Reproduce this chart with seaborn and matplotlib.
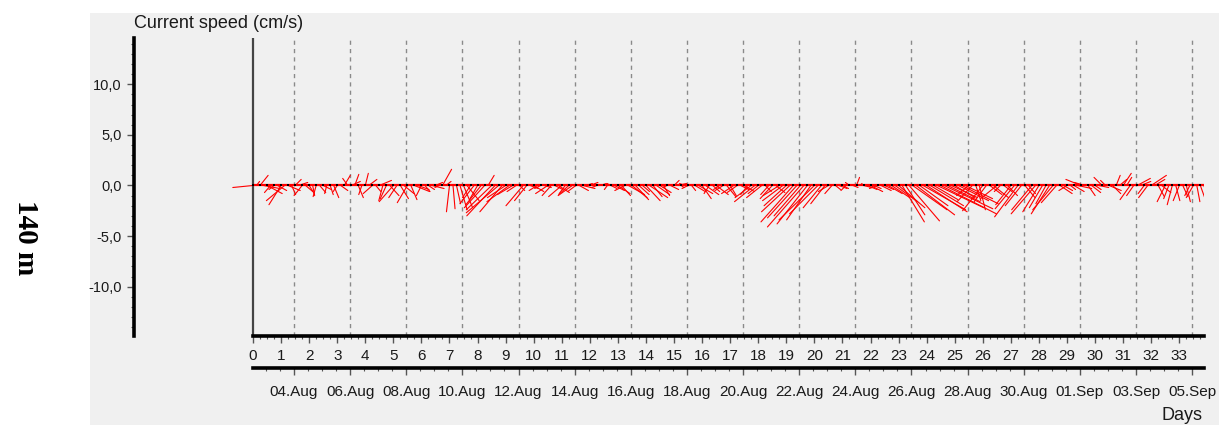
import numpy as np
import pandas as pd
import matplotlib
matplotlib.use("Agg")
import matplotlib.pyplot as plt
from matplotlib.patches import Rectangle
from matplotlib.ticker import MultipleLocator, FixedLocator, FixedFormatter, FuncFormatter
import seaborn as sns

# ---- current meter record at 140 m: u (east) and v (north) in cm/s, 3-hourly ----
start_time = "2013-08-02 13:00"
step_days = 0.125

u_east = [
    -2.0, 0.3, 0.8, 1.6, 1.5, -0.6, -0.5, 0.9,        # day 0
    -1.2, -1.8, 1.2, 0.4, 0.6, 0.9, -0.8, 0.7,        # day 1
    0.5, 0.2, -0.3, 0.6, 0.8, -0.2, 0.3, 0.5,         # day 2
    -0.4, 0.7, 0.6, -0.5, 0.9, 0.4, 0.5, -0.3,        # day 3
    0.3, 0.8, -0.9, 0.5, 1.2, -0.4, -0.6, 0.9,        # day 4
    -1.4, -0.8, 0.8, 1.0, -1.0, 0.6, 1.5, 1.1,        # day 5
    -0.5, 0.5, 0.6, 1.2, 0.7, -0.4, 0.9, 0.5,         # day 6
    -0.3, 0.2, 0.4, 0.7, 0.9, 1.2, -0.8, -1.4,        # day 7
    -0.8, -1.5, -2.0, 0.6, -2.5, -2.8, -3.2, -2.2,    # day 8
    -1.8, -2.2, -1.5, -0.9, 0.5, -1.7, -1.2, 0.8,     # day 9
    1.0, -0.8, -0.6, 0.7, -1.2, -0.9, 0.8, 1.1,       # day 10
    -1.3, -0.6, -1.0, -1.4, -0.8, 0.9, 1.2, 0.6,      # day 11
    0.8, 1.2, -0.5, 0.6, 0.4, -0.3, 0.6, 1.0,         # day 12
    1.2, 0.9, -1.0, 1.6, 1.5, 1.3, 1.0, 0.7,          # day 13
    1.4, 1.8, 0.9, 1.3, 1.1, 0.6, -0.4, 0.8,          # day 14
    0.5, 0.9, 0.3, -0.5, -0.6, 0.4, 1.0, 1.4,         # day 15
    0.9, 1.3, -0.5, 0.7, 1.2, -0.6, -0.8, 0.9,        # day 16
    0.6, -1.2, -1.0, 0.8, 1.0, -0.7, -1.6, -2.0,      # day 17
    -1.0, -1.5, 0.6, -0.8, -1.2, 0.9, -1.6, -2.0,     # day 18
    -2.2, -2.8, -3.2, -2.9, -2.6, -3.6, -3.0, -2.4,   # day 19
    -3.5, -2.8, -1.8, -1.4, -1.0, -0.7, 0.5, 0.8,     # day 20
    0.6, -0.5, -0.4, 0.5, 0.3, 0.2, 0.8, 1.0,         # day 21
    1.2, 0.7, -0.8, 1.0, 0.9, 1.4, 1.8, 2.2,          # day 22
    2.6, 2.2, 1.9, 3.0, 3.4, 3.8, 2.8, 4.2,           # day 23
    4.0, 3.3, 2.4, 4.6, 5.5, 4.8, 3.2, 2.6,           # day 24
    2.0, 3.0, 3.6, 2.7, -1.2, -1.5, 0.5, 0.6,         # day 25
    -2.0, -1.2, 1.2, 1.5, -1.6, -0.6, 0.8, 1.0,       # day 26
    -1.5, -1.9, -2.3, -1.6, 1.0, 0.7, -2.0, -2.4,     # day 27
    -1.6, -1.3, -1.0, -1.8, -2.0, -1.5, 1.2, 0.9,     # day 28
    -0.8, 0.5, 1.0, 1.4, -1.5, -1.0, 0.7, 0.9,        # day 29
    0.6, 1.0, -0.8, -0.5, 1.2, 0.8, 0.4, 0.7,         # day 30
    0.8, 0.5, -1.0, -0.7, 1.3, 1.0, -0.6, -0.9,       # day 31
    1.5, 1.0, 0.6, 0.9, -0.8, -0.5, -0.5, 0.4,        # day 32
    -0.6, 0.5, 0.4, -0.5, -0.7, 0.3, 0.5, 0.4,        # day 33
]
v_north = [
    -0.2, 0.4, 1.0, -0.3, -0.8, -0.7, -0.4, -0.5,     # day 0
    -1.9, -1.5, -0.5, -0.9, 0.6, 0.3, -1.0, -0.6,     # day 1
    -0.8, -1.0, -1.1, -0.7, -0.4, -0.8, -0.9, -1.2,   # day 2
    -0.6, -0.5, 1.0, 0.7, 0.4, 1.1, -1.2, -0.9,       # day 3
    1.2, 0.6, -0.8, -0.6, 0.5, -1.5, -1.3, -1.0,      # day 4
    -1.6, -1.2, -1.3, -0.8, -1.7, -1.4, -0.6, -0.4,   # day 5
    -1.0, -0.6, -0.4, -0.3, 0.3, -0.2, 1.6, 0.4,      # day 6
    -2.6, -2.3, -1.8, -2.4, -2.2, -1.5, -1.2, -1.8,   # day 7
    -1.4, -1.9, -2.2, 1.0, -2.4, -3.0, -2.7, -2.6,    # day 8
    -1.2, -1.6, -0.9, -0.6, -0.5, -2.0, -1.5, -0.3,   # day 9
    -0.6, -0.5, -0.3, -0.2, -0.8, -1.0, -0.4, -0.7,   # day 10
    -1.1, -0.8, -0.9, -1.0, -0.6, -0.5, -0.3, 0.2,    # day 11
    0.3, 0.1, -0.2, 0.2, 0.2, -0.4, -0.3, -0.5,       # day 12
    -0.8, -1.0, -0.5, -0.9, -1.2, -1.4, -0.9, -0.6,   # day 13
    -1.5, -1.2, -1.1, -0.9, -0.7, -1.0, -0.2, -0.4,   # day 14
    0.5, 0.2, -0.2, 0.2, -0.3, -0.5, -0.6, -0.8,      # day 15
    -1.3, -0.9, -0.8, -0.6, -0.9, -0.4, -0.5, -1.1,   # day 16
    -1.0, -0.8, -0.7, -0.4, -0.6, -0.9, -1.2, -1.6,   # day 17
    -0.8, -1.2, -0.6, -0.9, -1.3, -0.7, -1.0, -1.5,   # day 18
    -2.0, -2.6, -3.6, -3.2, -3.0, -4.1, -3.8, -3.4,   # day 19
    -3.4, -2.8, -2.2, -1.8, -0.6, -0.8, -0.4, -0.3,   # day 20
    -0.3, -0.5, 0.3, -0.2, 0.8, 0.2, -0.2, -0.4,      # day 21
    -0.6, -0.3, -0.3, -0.5, -0.4, -0.8, -1.2, -1.6,   # day 22
    -2.2, -3.6, -2.9, -3.5, -2.4, -2.9, -2.0, -2.4,   # day 23
    -2.6, -2.0, -1.4, -2.2, -2.8, -2.3, -1.6, -1.2,   # day 24
    -1.2, -1.5, -1.8, -1.3, -1.0, -1.6, -1.5, -2.4,   # day 25
    -2.5, -1.6, -0.9, -1.2, -1.3, -0.6, -0.6, -1.0,   # day 26
    -1.9, -2.3, -3.1, -2.0, -1.2, -0.8, -2.4, -2.8,   # day 27
    -2.6, -2.2, -1.8, -2.8, -2.4, -1.7, -0.8, -0.5,   # day 28
    -0.5, -0.4, -0.6, -0.3, 0.6, 0.3, -1.0, -0.7,     # day 29
    -0.4, -0.2, 0.8, 0.5, -0.5, -0.8, 1.0, 0.6,       # day 30
    1.2, 0.8, -1.4, -1.0, 0.7, 0.4, -0.8, -1.2,       # day 31
    1.0, 0.6, -1.1, -0.7, -1.6, -1.3, -1.9, -1.5,     # day 32
    -1.5, -1.1, -1.6, -1.0, -1.2, -1.6, -1.4, -1.1,   # day 33
]

y_ticks = [-10, -5, 0, 5, 10]
day_ticks = list(range(0, 34))

# ---- figure geometry (pixels) ----
W, H, DPI = 1219, 425, 100
ax_left, ax_right, ax_top, ax_bottom = 134, 1204, 38, 336
x_min, x_max = -4.24, 33.88
y_min, y_max = -14.88, 14.58

sns.set_style("white")
plt.rcParams["font.family"] = ["Liberation Sans", "DejaVu Sans"]
txt_color = "#1a1a1a"

fig = plt.figure(figsize=(W / DPI, H / DPI), dpi=DPI)
fig.patch.set_facecolor("white")
fig.patches.append(Rectangle((90 / W, 0), 1, (H - 13) / H, transform=fig.transFigure,
                             facecolor="#f0f0f0", edgecolor="none", zorder=-5))

ax = fig.add_axes([ax_left / W, (H - ax_bottom) / H,
                   (ax_right - ax_left) / W, (ax_bottom - ax_top) / H])
ax.patch.set_visible(False)
ax.set_xlim(x_min, x_max)
ax.set_ylim(y_min, y_max)

# ---- stick vectors: origin on the time axis, tip at (t + u*k, v) ----
t = np.arange(len(u_east)) * step_days
px_per_day = (ax_right - ax_left) / (x_max - x_min)
px_per_speed = (ax_bottom - ax_top) / (y_max - y_min)
k = px_per_speed / px_per_day  # days per cm/s so that sticks keep true direction
u = np.asarray(u_east)
v = np.asarray(v_north)
sticks = pd.DataFrame({
    "stick": np.repeat(np.arange(len(t)), 2),
    "x": np.column_stack([t, t + u * k]).ravel(),
    "y": np.column_stack([np.zeros_like(v), v]).ravel(),
})

start = pd.Timestamp(start_time)
first_date = pd.Timestamp(start.date()) + pd.Timedelta(days=2)
date_list = pd.date_range(first_date, periods=17, freq="2D")
date_pos = [(d - start) / pd.Timedelta(days=1) for d in date_list]

for p in date_pos:
    ax.axvline(p, color="#8a8a8a", lw=1.0, ls=(0, (3, 3)), zorder=1)
ax.axvline(0, color="#444444", lw=1.6, zorder=2)
ax.hlines(0, 0, t[-1], color="red", lw=1.6, zorder=3)

sns.lineplot(data=sticks, x="x", y="y", units="stick", estimator=None,
             color="red", lw=0.8, ax=ax, legend=False, zorder=4)
sns.scatterplot(x=t[::2], y=np.zeros(len(t[::2])), color="black", marker="s", s=1.5,
                linewidth=0, ax=ax, zorder=5)
ax.set_xlabel("")
ax.set_ylabel("")

# ---- axes styling ----
for side in ("top", "right"):
    ax.spines[side].set_visible(False)
ax.spines["left"].set_color("black")
ax.spines["left"].set_linewidth(2.6)
ax.spines["bottom"].set_color("black")
ax.spines["bottom"].set_linewidth(2.6)
ax.spines["bottom"].set_bounds(0, x_max)

ax.yaxis.set_major_locator(FixedLocator(y_ticks))
ax.yaxis.set_minor_locator(MultipleLocator(1))
ax.yaxis.set_major_formatter(FuncFormatter(lambda val, pos: f"{val:.1f}".replace(".", ",")))
ax.tick_params(axis="y", which="major", direction="out", length=5, width=1.0,
               color="#555555", labelsize=10.5, labelcolor=txt_color, pad=4,
               left=True, labelleft=True)
ax.tick_params(axis="y", which="minor", direction="out", length=2.5, width=0.8,
               color="#555555", left=True)

ax.xaxis.set_major_locator(FixedLocator(day_ticks))
ax.xaxis.set_minor_locator(FixedLocator(np.arange(0, x_max, 0.25)))
ax.tick_params(axis="x", which="major", direction="out", length=5, width=1.0,
               color="#555555", labelsize=11, labelcolor=txt_color, pad=4, bottom=True)
ax.tick_params(axis="x", which="minor", direction="out", length=2.5, width=0.8,
               color="#555555", bottom=True)

# calendar date axis below the day axis
ax2 = ax.twiny()
ax2.patch.set_visible(False)
ax2.set_xlim(x_min, x_max)
ax2.xaxis.set_ticks_position("bottom")
for side in ("top", "right", "left"):
    ax2.spines[side].set_visible(False)
ax2.spines["bottom"].set_position(("outward", 32 * 72 / DPI))
ax2.spines["bottom"].set_color("black")
ax2.spines["bottom"].set_linewidth(2.6)
ax2.spines["bottom"].set_bounds(0, x_max)
ax2.xaxis.set_major_locator(FixedLocator(date_pos))
ax2.xaxis.set_major_formatter(FixedFormatter([d.strftime("%d.%b") for d in date_list]))
minor_dates = pd.date_range(first_date - pd.Timedelta(days=1), periods=70, freq="12h")
ax2.xaxis.set_minor_locator(FixedLocator(
    [p for p in ((d - start) / pd.Timedelta(days=1) for d in minor_dates) if 0 <= p <= x_max]))
ax2.tick_params(axis="x", which="major", direction="out", length=5, width=1.0,
                color="#555555", labelsize=11, labelcolor=txt_color, pad=7)
ax2.tick_params(axis="x", which="minor", direction="out", length=2.5, width=0.8,
                color="#555555")

# ---- texts ----
fig.text(134 / W, 1 - 24 / H, "Current speed (cm/s)", ha="left", va="center",
         fontsize=13, color=txt_color)
fig.text(1182 / W, 1 - 415 / H, "Days", ha="center", va="center",
         fontsize=13, color=txt_color)
fig.text(25 / W, 1 - 238 / H, "140 m", ha="center", va="center", rotation=-90,
         fontsize=21, fontweight="bold", family=["Liberation Serif", "DejaVu Serif"],
         color="black")

fig.savefig("out.png", dpi=DPI, facecolor=fig.get_facecolor())
